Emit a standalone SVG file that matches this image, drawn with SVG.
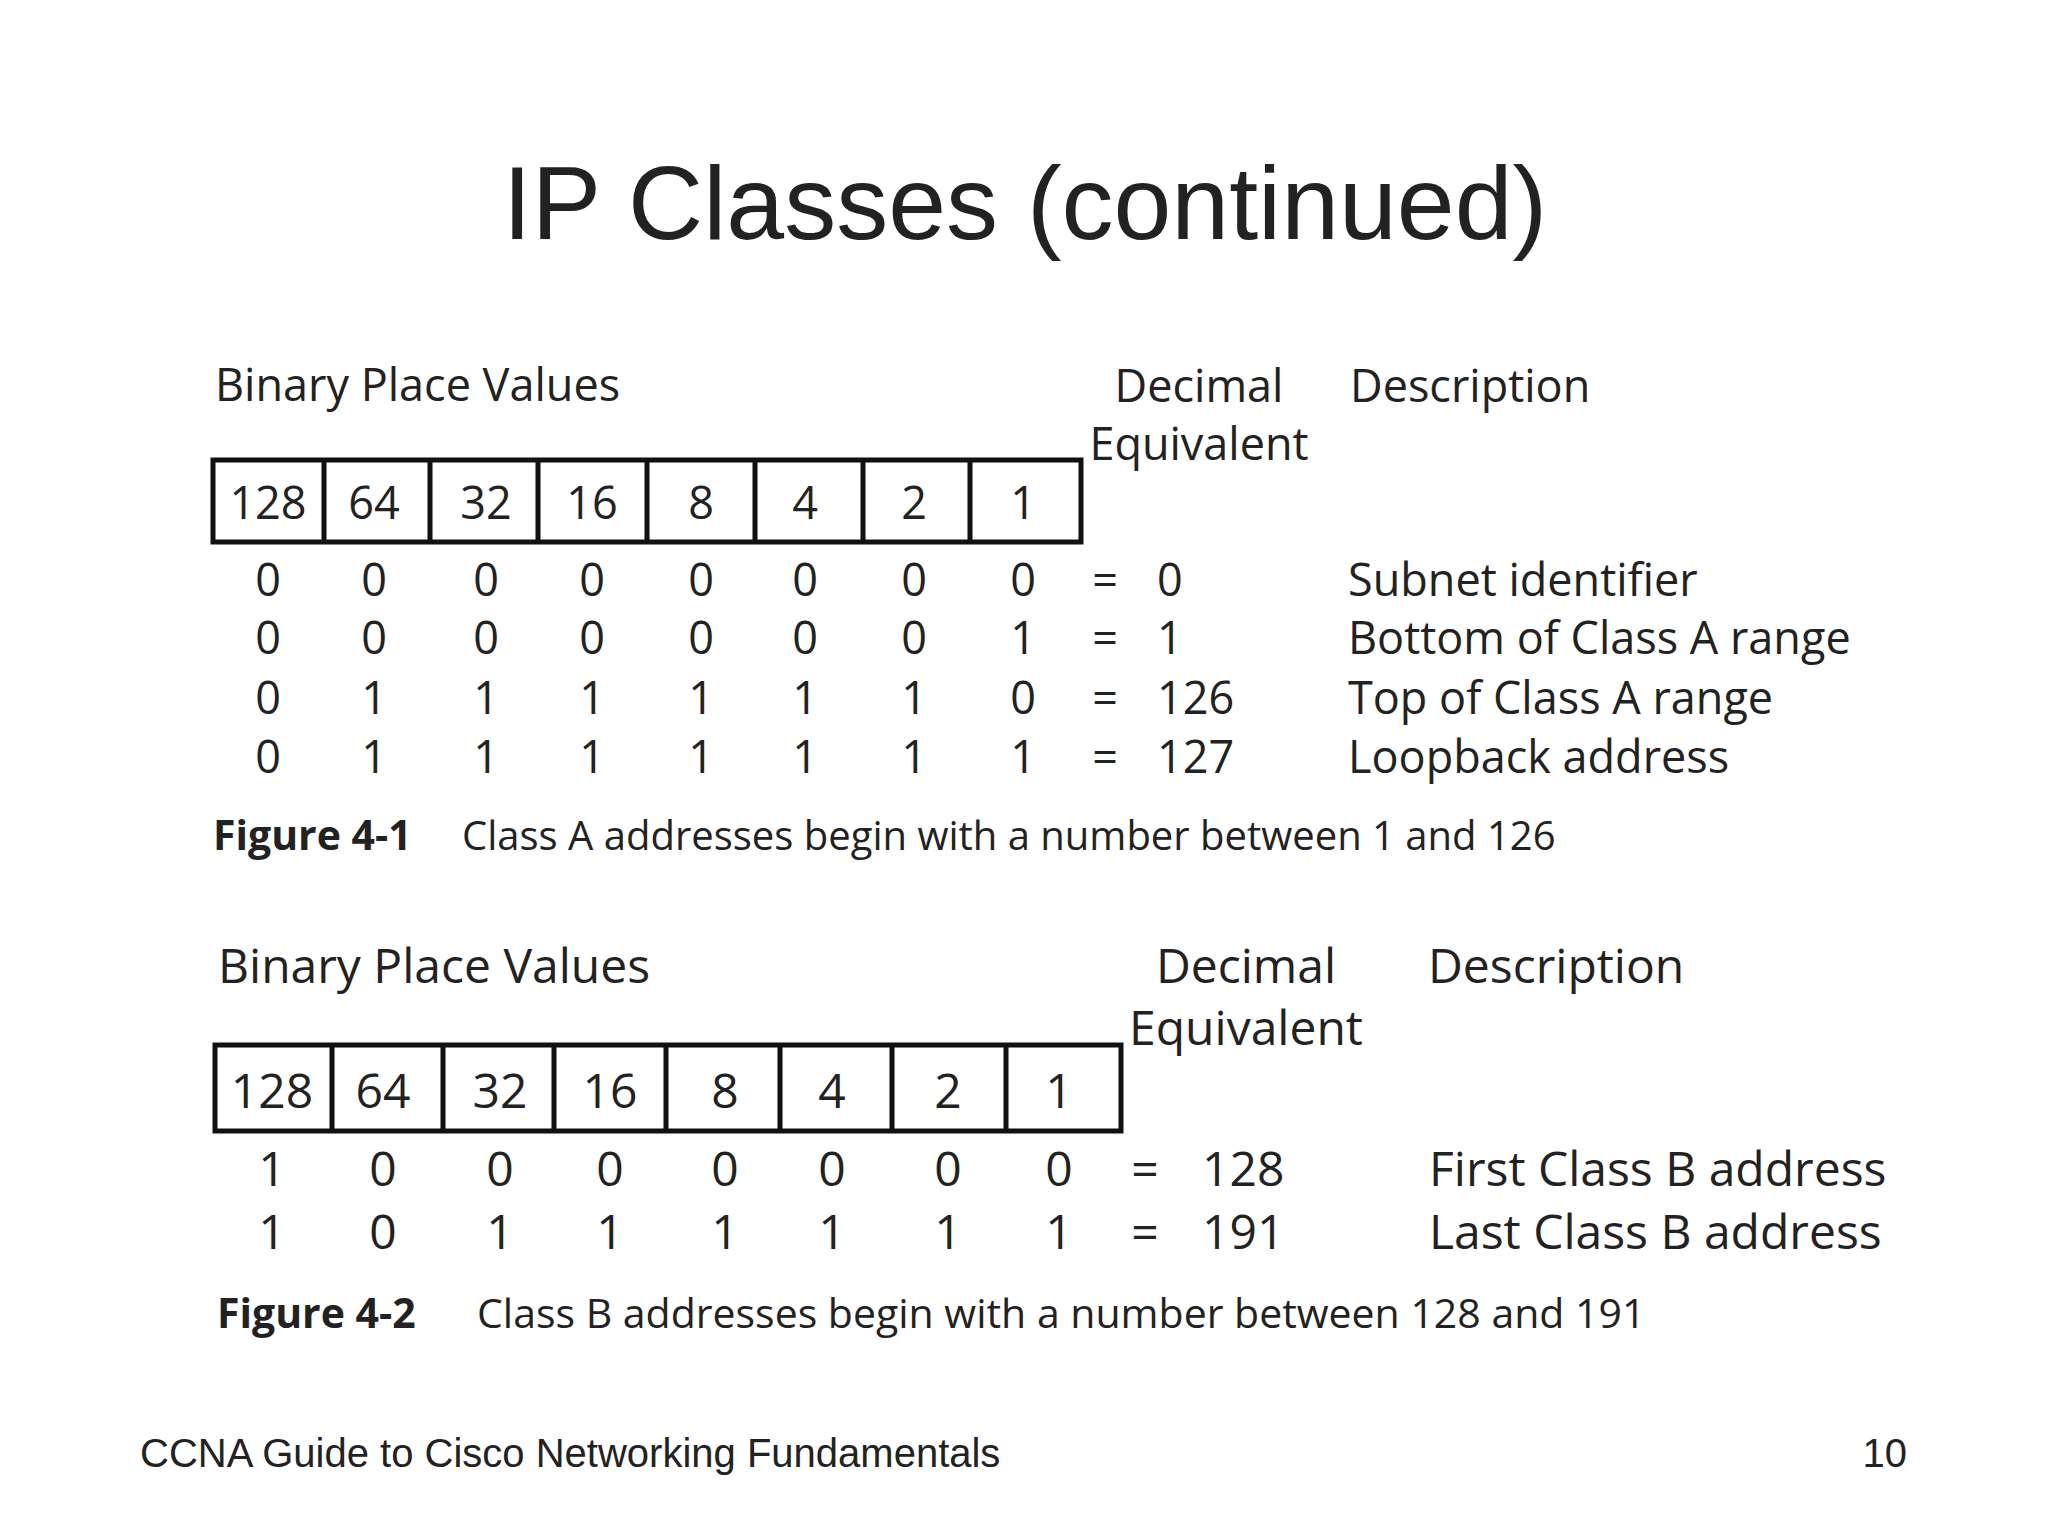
<svg xmlns="http://www.w3.org/2000/svg" width="2048" height="1536" viewBox="0 0 2048 1536">
<style>
.t{font-family:"Liberation Sans",Arial,sans-serif;fill:#222}
.f{font-family:"Open Sans","Noto Sans",sans-serif;fill:#222}
.a{font-size:45px}.b{font-size:48px}
.c{font-size:40px}.cb{font-size:41px;font-weight:bold}
.c2{font-size:41px}
.m{text-anchor:middle}
.box{fill:none;stroke:#111;stroke-width:5}
</style>
<rect width="2048" height="1536" fill="#fff"/>
<text class="t m" x="1025" y="239" font-size="104">IP Classes (continued)</text>
<text class="t" x="140" y="1467" font-size="40">CCNA Guide to Cisco Networking Fundamentals</text>
<text class="t" x="1907" y="1467" font-size="40" text-anchor="end">10</text>

<g id="fig1" class="f a">
<text x="215" y="401">Binary Place Values</text>
<text class="m" x="1199" y="402">Decimal</text>
<text class="m" x="1199" y="460">Equivalent</text>
<text x="1350" y="402">Description</text>
<rect class="box" x="213" y="460" width="868" height="82"/>
<path class="box" d="M324 460V542M430 460V542M538 460V542M647 460V542M755 460V542M863 460V542M970 460V542"/>
<g class="m">
<text x="268" y="519">128</text><text x="374" y="519">64</text><text x="486" y="519">32</text><text x="592" y="519">16</text><text x="701" y="519">8</text><text x="805" y="519">4</text><text x="914" y="519">2</text><text x="1023" y="519">1</text>
<text x="268" y="596">0</text><text x="374" y="596">0</text><text x="486" y="596">0</text><text x="592" y="596">0</text><text x="701" y="596">0</text><text x="805" y="596">0</text><text x="914" y="596">0</text><text x="1023" y="596">0</text><text x="1105" y="596">=</text>
<text x="268" y="654">0</text><text x="374" y="654">0</text><text x="486" y="654">0</text><text x="592" y="654">0</text><text x="701" y="654">0</text><text x="805" y="654">0</text><text x="914" y="654">0</text><text x="1023" y="654">1</text><text x="1105" y="654">=</text>
<text x="268" y="714">0</text><text x="374" y="714">1</text><text x="486" y="714">1</text><text x="592" y="714">1</text><text x="701" y="714">1</text><text x="805" y="714">1</text><text x="914" y="714">1</text><text x="1023" y="714">0</text><text x="1105" y="714">=</text>
<text x="268" y="773">0</text><text x="374" y="773">1</text><text x="486" y="773">1</text><text x="592" y="773">1</text><text x="701" y="773">1</text><text x="805" y="773">1</text><text x="914" y="773">1</text><text x="1023" y="773">1</text><text x="1105" y="773">=</text>
</g>
<text x="1157" y="596">0</text><text x="1157" y="654">1</text><text x="1157" y="714">126</text><text x="1157" y="773">127</text>
<text x="1348" y="596">Subnet identifier</text><text x="1348" y="654">Bottom of Class A range</text><text x="1348" y="714">Top of Class A range</text><text x="1348" y="773">Loopback address</text>
<text class="cb" x="213" y="850">Figure 4-1</text>
<text class="c" x="462" y="850">Class A addresses begin with a number between 1 and 126</text>
</g>

<g id="fig2" class="f b">
<text x="218" y="983">Binary Place Values</text>
<text class="m" x="1246" y="983">Decimal</text>
<text class="m" x="1246" y="1045">Equivalent</text>
<text x="1428" y="983">Description</text>
<rect class="box" x="215" y="1045" width="906" height="86"/>
<path class="box" d="M332 1045V1131M443 1045V1131M554 1045V1131M666 1045V1131M780 1045V1131M892 1045V1131M1006 1045V1131"/>
<g class="m">
<text x="272" y="1108">128</text><text x="383" y="1108">64</text><text x="500" y="1108">32</text><text x="610" y="1108">16</text><text x="725" y="1108">8</text><text x="832" y="1108">4</text><text x="948" y="1108">2</text><text x="1059" y="1108">1</text>
<text x="272" y="1186">1</text><text x="383" y="1186">0</text><text x="500" y="1186">0</text><text x="610" y="1186">0</text><text x="725" y="1186">0</text><text x="832" y="1186">0</text><text x="948" y="1186">0</text><text x="1059" y="1186">0</text><text x="1145" y="1186">=</text>
<text x="272" y="1249">1</text><text x="383" y="1249">0</text><text x="500" y="1249">1</text><text x="610" y="1249">1</text><text x="725" y="1249">1</text><text x="832" y="1249">1</text><text x="948" y="1249">1</text><text x="1059" y="1249">1</text><text x="1145" y="1249">=</text>
</g>
<text x="1202" y="1186">128</text><text x="1202" y="1249">191</text>
<text x="1429" y="1186">First Class B address</text><text x="1429" y="1249">Last Class B address</text>
<text class="cb" x="217" y="1328">Figure 4-2</text>
<text class="c2" x="477" y="1328">Class B addresses begin with a number between 128 and 191</text>
</g>
</svg>
